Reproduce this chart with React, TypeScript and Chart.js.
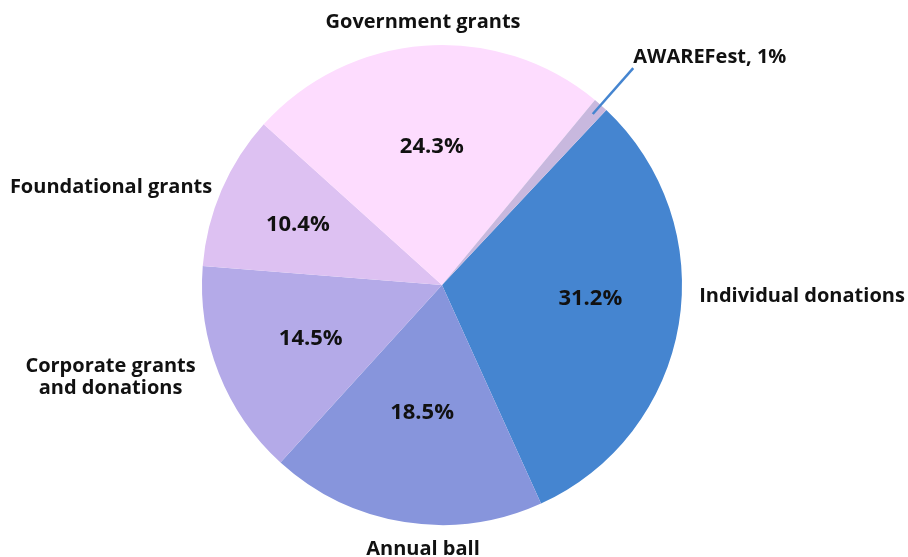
import React, { useEffect, useRef } from "react";
import { Chart, registerables } from "chart.js";

Chart.register(...registerables);

// ---- data ----
const categories = [
  "Individual donations",
  "Annual ball",
  "Corporate grants\nand donations",
  "Foundational grants",
  "Government grants",
  "AWAREFest",
];
const shares = [31.2, 18.5, 14.5, 10.4, 24.3, 1.0];

// ---- style ----
const colors = ["#4585D0", "#8795DC", "#B4AAE8", "#DDC1F2", "#FDDCFE", "#C8B8DE"];
// percent label: radial fraction and angle shift (deg), null = no inside label
const pctRadius = [0.62, 0.533, 0.588, 0.654, 0.583, null];
const pctAngleShift = [-4.8, 0, 0, 0, 0, 0];
// outside label offsets relative to pie centre, in radius units (baseline centre)
const outsideOffsets: ([number, number] | null)[] = [
  [1.5, 0.071],
  [-0.079, 1.125],
  [-1.381, 0.3625],
  [-1.379, -0.383],
  [-0.079, -1.071],
  null,
];
const FONT = "'Open Sans', 'DejaVu Sans', sans-serif";

const labelPlugin = {
  id: "pieLabels",
  afterDatasetsDraw(chart: any) {
    const ctx = chart.ctx;
    const meta = chart.getDatasetMeta(0);
    ctx.save();
    ctx.fillStyle = "#111111";
    meta.data.forEach((arc: any, i: number) => {
      const { x, y, startAngle, endAngle, outerRadius: r } = arc.getProps(
        ["x", "y", "startAngle", "endAngle", "outerRadius"],
        true
      );
      const mid = (startAngle + endAngle) / 2;
      // inside percent label
      const f = pctRadius[i];
      if (f !== null) {
        const a = mid + (pctAngleShift[i] * Math.PI) / 180;
        const px = x + Math.cos(a) * r * f;
        const py = y + Math.sin(a) * r * f;
        ctx.font = `bold 22px ${FONT}`;
        ctx.textAlign = "center";
        ctx.textBaseline = "alphabetic";
        ctx.fillText(shares[i].toFixed(1) + "%", px, py + 7.9);
      }
      // outside labels
      const off = outsideOffsets[i];
      ctx.font = `bold 20px ${FONT}`;
      ctx.textBaseline = "alphabetic";
      if (off) {
        const lines = categories[i].split("\n");
        ctx.textAlign = "center";
        lines.forEach((ln, k) => {
          ctx.fillText(ln, x + off[0] * r, y + off[1] * r + k * 22);
        });
      } else {
        // leader line label
        const x1 = x + Math.cos(mid) * r * 0.95;
        const y1 = y + Math.sin(mid) * r * 0.95;
        const x2 = x + Math.cos(mid) * r * 1.205;
        const y2 = y + Math.sin(mid) * r * 1.205;
        ctx.strokeStyle = colors[0];
        ctx.lineWidth = 2.5;
        ctx.beginPath();
        ctx.moveTo(x1, y1);
        ctx.lineTo(x2, y2);
        ctx.stroke();
        ctx.textAlign = "left";
        ctx.fillText(`${categories[i]}, ${Math.round(shares[i])}%`, x2, y2 - 5.3);
      }
    });
    ctx.restore();
  },
};

export default function App() {
  const ref = useRef<HTMLCanvasElement | null>(null);
  useEffect(() => {
    if (!ref.current) return;
    const chart = new Chart(ref.current, {
      type: "pie",
      data: {
        labels: categories,
        datasets: [
          {
            data: shares,
            backgroundColor: colors,
            borderWidth: 0,
          },
        ],
      },
      options: {
        responsive: false,
        animation: false,
        rotation: 43.2,
        layout: { padding: { top: 45, bottom: 32, left: 0, right: 24 } },
        plugins: {
          legend: { display: false },
          tooltip: { enabled: false },
        },
      },
      plugins: [labelPlugin],
    });
    return () => chart.destroy();
  }, []);
  return (
    <div style={{ position: "fixed", left: 0, top: 0, width: 908, height: 557, background: "#fff" }}>
      <canvas ref={ref} width={908} height={557} style={{ display: "block" }} />
    </div>
  );
}
